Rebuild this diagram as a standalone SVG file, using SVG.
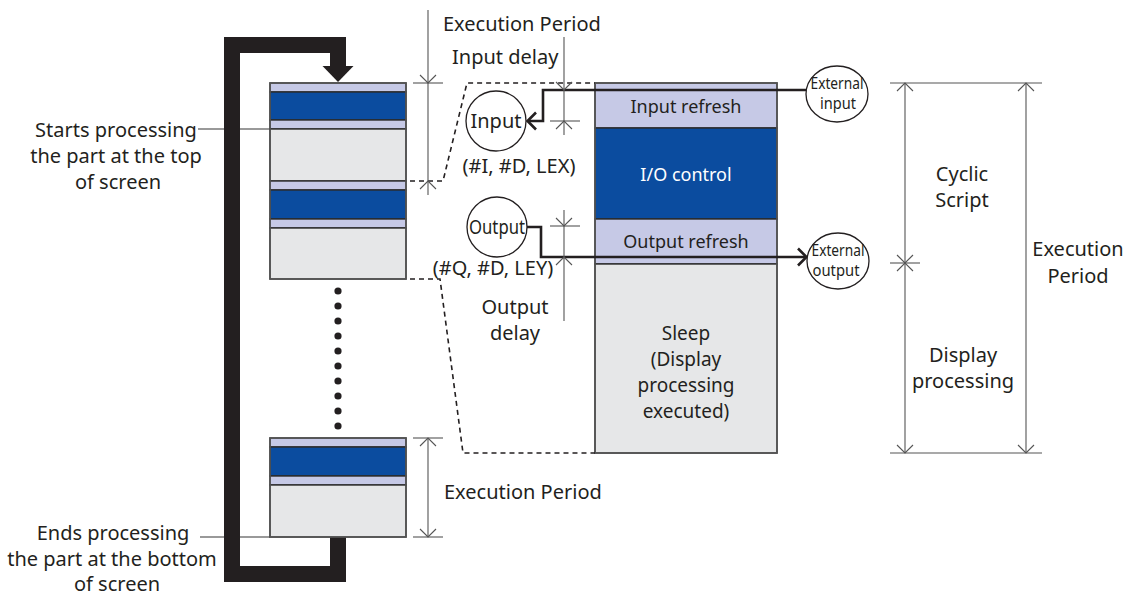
<svg xmlns="http://www.w3.org/2000/svg" xmlns:xlink="http://www.w3.org/1999/xlink" width="1126" height="597" viewBox="0 0 1126 597">
<style>
  text { font-family: "Noto Sans", "DejaVu Sans", sans-serif; fill: #231f20; }
  .t20 { font-size: 20px; }
  .t18 { font-size: 18px; }
  .t19 { font-size: 19px; }
  .t16 { font-size: 16px; }
  .mid { text-anchor: middle; }
  .lav { fill: #c6c9e6; stroke: #2b2b2b; stroke-width: 1.4; }
  .blu { fill: #0b4c9f; stroke: #2b2b2b; stroke-width: 1.4; }
  .gry { fill: #e6e7e8; stroke: #2b2b2b; stroke-width: 1.4; }
  .outline { fill: none; stroke: #555; stroke-width: 1.6; }
  .dim { fill: none; stroke: #555; stroke-width: 1.1; }
  .dash { fill: none; stroke: #231f20; stroke-width: 1.6; stroke-dasharray: 5 4; }
  .sig { fill: none; stroke: #231f20; stroke-width: 2.6; stroke-linejoin: miter; }
  .circ { fill: #fff; stroke: #231f20; stroke-width: 1.3; }
  .loop { fill: none; stroke: #231f20; stroke-width: 16; stroke-linejoin: miter; }
  .lead { fill: none; stroke: #777; stroke-width: 1.3; }
</style>
<defs>
  <path id="chevDown" d="M-8,-8 L0,0 L8,-8" class="dim"/>
  <path id="chevUp" d="M-8,8 L0,0 L8,8" class="dim"/>
</defs>

<!-- leader lines -->
<g id="leaders">
  <line class="lead" x1="198" y1="129" x2="270" y2="129"/>
  <line class="lead" x1="200" y1="537" x2="270" y2="537"/>
</g>

<!-- loop arrow -->
<g id="loop">
  <path class="loop" d="M338,537 V574 H232 V45 H338 V67"/>
  <polygon points="322.5,66 353.5,66 338,82" fill="#231f20"/>
</g>

<!-- top stack -->
<g id="stack-top">
  <rect class="lav" x="270" y="83" width="136" height="9"/>
  <rect class="blu" x="270" y="92" width="136" height="28"/>
  <rect class="lav" x="270" y="120" width="136" height="9"/>
  <rect class="gry" x="270" y="129" width="136" height="52"/>
  <rect class="lav" x="270" y="181" width="136" height="9"/>
  <rect class="blu" x="270" y="190" width="136" height="29"/>
  <rect class="lav" x="270" y="219" width="136" height="9"/>
  <rect class="gry" x="270" y="228" width="136" height="51"/>
  <rect class="outline" x="270" y="83" width="136" height="196"/>
</g>

<!-- dots -->
<g id="dots" fill="#231f20">
  <circle cx="338" cy="291" r="3.6"/>
  <circle cx="338" cy="306" r="3.6"/>
  <circle cx="338" cy="321" r="3.6"/>
  <circle cx="338" cy="336" r="3.6"/>
  <circle cx="338" cy="351" r="3.6"/>
  <circle cx="338" cy="366" r="3.6"/>
  <circle cx="338" cy="381" r="3.6"/>
  <circle cx="338" cy="396" r="3.6"/>
  <circle cx="338" cy="411" r="3.6"/>
  <circle cx="338" cy="426" r="3.6"/>
</g>

<!-- bottom stack -->
<g id="stack-bottom">
  <rect class="lav" x="270" y="438" width="136" height="9"/>
  <rect class="blu" x="270" y="447" width="136" height="29"/>
  <rect class="lav" x="270" y="476" width="136" height="9"/>
  <rect class="gry" x="270" y="485" width="136" height="52"/>
  <rect class="outline" x="270" y="438" width="136" height="99"/>
</g>

<!-- right column -->
<g id="cycle-column">
  <rect class="lav" x="595" y="83" width="182" height="45"/>
  <rect class="blu" x="595" y="128" width="182" height="91"/>
  <rect class="lav" x="595" y="219" width="182" height="45"/>
  <rect class="gry" x="595" y="264" width="182" height="189"/>
  <rect class="outline" x="595" y="83" width="182" height="370"/>
  <text class="t18 mid" x="686" y="113">Input refresh</text>
  <text class="t18 mid" x="686" y="181" style="fill:#ffffff">I/O control</text>
  <text class="t18 mid" x="686" y="248">Output refresh</text>
  <text class="t19 mid" x="686" y="340">Sleep</text>
  <text class="t19 mid" x="686" y="366">(Display</text>
  <text class="t19 mid" x="686" y="392">processing</text>
  <text class="t19 mid" x="686" y="418">executed)</text>
</g>

<!-- connectors -->
<g id="connectors">
  <path class="dash" d="M410,181 H443 L467,83 H595"/>
  <path class="dash" d="M410,279 H440 L463,453 H595"/>
  <path class="sig" d="M806,90 H543 V121 H528"/>
  <path class="sig" d="M536,112.5 L527.5,121 L536,129.5"/>
  <path class="sig" d="M527,227 H541 V257 H806"/>
  <path class="sig" d="M798,248.5 L806.5,257 L798,265.5"/>
</g>

<!-- dimensions -->
<g id="dimensions">
  <line class="dim" x1="428" y1="10" x2="428" y2="195"/>
  <line class="dim" x1="413" y1="83" x2="443" y2="83"/>
  <use xlink:href="#chevDown" x="428" y="83"/>
  <use xlink:href="#chevUp" x="428" y="181"/>
  <line class="dim" x1="564" y1="37" x2="564" y2="135"/>
  <line class="dim" x1="550" y1="121" x2="580" y2="121"/>
  <use xlink:href="#chevDown" x="564" y="90"/>
  <use xlink:href="#chevUp" x="564" y="121"/>
  <line class="dim" x1="564" y1="210" x2="564" y2="321"/>
  <line class="dim" x1="550" y1="226" x2="580" y2="226"/>
  <use xlink:href="#chevDown" x="564" y="226"/>
  <use xlink:href="#chevUp" x="564" y="257"/>
  <line class="dim" x1="428" y1="438" x2="428" y2="537"/>
  <line class="dim" x1="413" y1="438" x2="443" y2="438"/>
  <line class="dim" x1="413" y1="537" x2="443" y2="537"/>
  <use xlink:href="#chevUp" x="428" y="438"/>
  <use xlink:href="#chevDown" x="428" y="537"/>
  <line class="dim" x1="890" y1="83" x2="1042" y2="83"/>
  <line class="dim" x1="890" y1="453" x2="1042" y2="453"/>
  <line class="dim" x1="890" y1="263" x2="920" y2="263"/>
  <line class="dim" x1="905" y1="83" x2="905" y2="453"/>
  <line class="dim" x1="1026" y1="83" x2="1026" y2="453"/>
  <use xlink:href="#chevUp" x="905" y="83"/>
  <use xlink:href="#chevDown" x="905" y="263"/>
  <use xlink:href="#chevUp" x="905" y="263"/>
  <use xlink:href="#chevDown" x="905" y="453"/>
  <use xlink:href="#chevUp" x="1026" y="83"/>
  <use xlink:href="#chevDown" x="1026" y="453"/>
</g>

<!-- circle nodes -->
<g id="input-node">
  <circle class="circ" cx="496" cy="121" r="30"/>
  <text class="t20 mid" x="496" y="128">Input</text>
</g>
<g id="output-node">
  <circle class="circ" cx="497" cy="227" r="30"/>
  <text class="t20 mid" x="497" y="234" textLength="56" lengthAdjust="spacingAndGlyphs">Output</text>
</g>
<g id="external-input">
  <ellipse class="circ" cx="837" cy="94" rx="31" ry="28"/>
  <text class="t16 mid" x="837" y="89" textLength="53" lengthAdjust="spacingAndGlyphs">External</text>
  <text class="t16 mid" x="838" y="109" textLength="36" lengthAdjust="spacingAndGlyphs">input</text>
</g>
<g id="external-output">
  <ellipse class="circ" cx="838" cy="261" rx="31" ry="28"/>
  <text class="t16 mid" x="838" y="256" textLength="53" lengthAdjust="spacingAndGlyphs">External</text>
  <text class="t16 mid" x="836" y="276" textLength="47" lengthAdjust="spacingAndGlyphs">output</text>
</g>

<!-- labels -->
<g id="labels">
  <text class="t20" x="443" y="31">Execution Period</text>
  <text class="t20" x="452" y="64">Input delay</text>
  <text class="t20 mid" x="519" y="173">(#I, #D, LEX)</text>
  <text class="t20 mid" x="493" y="275">(#Q, #D, LEY)</text>
  <text class="t20 mid" x="515" y="314">Output</text>
  <text class="t20 mid" x="515" y="340">delay</text>
  <text class="t20" x="444" y="499">Execution Period</text>
  <text class="t20 mid" x="962" y="181">Cyclic</text>
  <text class="t20 mid" x="962" y="207">Script</text>
  <text class="t20 mid" x="1078" y="256">Execution</text>
  <text class="t20 mid" x="1078" y="283">Period</text>
  <text class="t20 mid" x="963" y="362">Display</text>
  <text class="t20 mid" x="963" y="388">processing</text>
  <text class="t20 mid" x="116" y="137">Starts processing</text>
  <text class="t20 mid" x="116" y="163">the part at the top</text>
  <text class="t20 mid" x="118" y="189">of screen</text>
  <text class="t20 mid" x="113" y="540">Ends processing</text>
  <text class="t20 mid" x="112" y="566">the part at the bottom</text>
  <text class="t20 mid" x="117" y="591">of screen</text>
</g>
</svg>
